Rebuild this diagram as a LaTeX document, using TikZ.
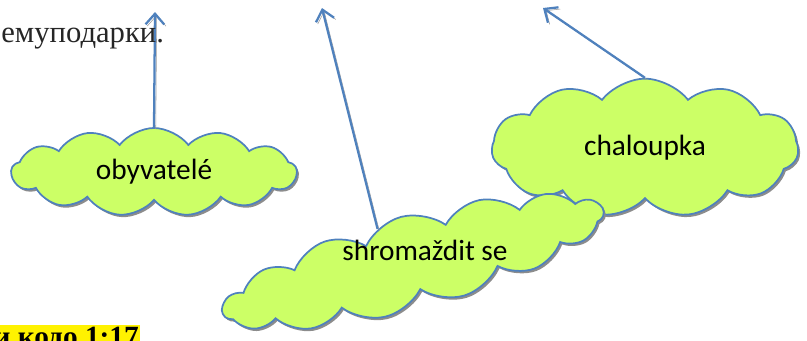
\documentclass[tikz,border=0pt]{standalone}
\usepackage{fontspec}
\setmainfont{Liberation Serif}
\newfontfamily\calfont{Carlito}
\usetikzlibrary{shapes.symbols,shadows,arrows.meta}
\definecolor{cloudgreen}{RGB}{204,255,102}
\definecolor{cloudblue}{RGB}{79,129,189}

\tikzset{
  idea/.style={cloud, cloud ignores aspect, draw=cloudblue, line width=1.3pt,
    fill=cloudgreen, inner sep=0pt, font=\calfont\fontsize{22}{26}\selectfont,
    drop shadow={shadow xshift=1.5pt, shadow yshift=-1.8pt, fill=black!45, opacity=1}},
  link/.style={draw=cloudblue, line width=1.7pt, -{Straight Barb[length=8pt,width=14pt,line width=1.7pt]},
    preaction={draw=black!40, transform canvas={shift={(1.3pt,-1.3pt)}}}}
}

\begin{document}
\begin{tikzpicture}[x=0.75pt,y=-0.75pt]
  \useasboundingbox (0,0) rectangle (807,340);
  % clouds
  \node[idea, cloud puffs=13, cloud puff arc=105, minimum width=214pt, minimum height=66pt] (oby) at (154,172) {obyvatelé};
  \node[idea, cloud puffs=11, cloud puff arc=105, minimum width=230pt, minimum height=104pt] (chal) at (645,148) {chaloupka};
  \node[idea, cloud puffs=15, cloud puff arc=100, minimum width=295pt, minimum height=70pt, rotate=15] (shrom) at (413,262) {};
  \node[font=\calfont\fontsize{22}{26}\selectfont] (shromtxt) at (425,250) {shromaždit se};
  % arrows
  \coordinate (t1) at (155,12);
  \coordinate (t2) at (322,8);
  \coordinate (t3) at (543,8);
  \foreach \s/\t in {oby.north/t1, shrom.122/t2, chal.north/t3}
    \draw[link] (\s) -- (\t);
  % texts
  \node[anchor=base west, text=black!85, font=\fontsize{23}{27}\selectfont, inner sep=0pt] (verse) at (1,42) {емуподарки.};
  \node[anchor=base west, fill=yellow, font=\bfseries\fontsize{22}{26}\selectfont, inner sep=1pt] (ref) at (-8,346) {и кодо 1:17};
\end{tikzpicture}
\end{document}
